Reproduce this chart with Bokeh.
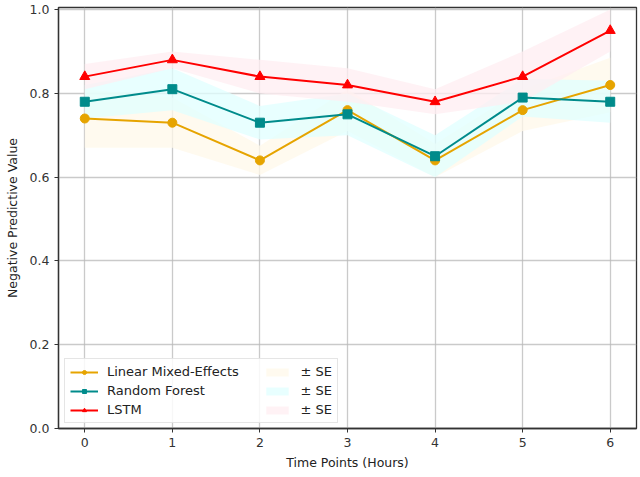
from bokeh.plotting import figure
from bokeh.models import Legend, LegendItem, FixedTicker, Range1d, CustomJSTickFormatter
from bokeh.embed import file_html
from bokeh.resources import INLINE

time_points = [0, 1, 2, 3, 4, 5, 6]
lme = [0.74, 0.73, 0.64, 0.76, 0.64, 0.76, 0.82]
rf = [0.78, 0.81, 0.73, 0.75, 0.65, 0.79, 0.78]
lstm = [0.84, 0.88, 0.84, 0.82, 0.78, 0.84, 0.95]
lme_se = [0.07, 0.06, 0.035, 0.05, 0.04, 0.05, 0.065]
rf_se = [0.04, 0.05, 0.04, 0.05, 0.05, 0.045, 0.05]
lstm_se = [0.03, 0.02, 0.04, 0.04, 0.03, 0.06, 0.05]
y_ticks = [0.0, 0.2, 0.4, 0.6, 0.8, 1.0]
series_names = ["Linear Mixed-Effects", "Random Forest", "LSTM"]

FONT = "DejaVu Sans"

p = figure(width=640, height=477, output_backend="svg", toolbar_location=None,
           x_range=Range1d(-0.3, 6.3), y_range=Range1d(0.0, 1.005),
           min_border_left=58, min_border_right=4, min_border_top=7, min_border_bottom=49)

p.outline_line_color = "#333333"
p.outline_line_width = 1.3
for ax in (p.xaxis[0], p.yaxis[0]):
    ax.axis_line_color = "#333333"
    ax.axis_line_width = 1.3
    ax.major_tick_line_color = "#333333"
    ax.major_tick_out = 4
    ax.major_tick_in = 0
    ax.minor_tick_line_color = None
    ax.major_label_text_font = FONT
    ax.major_label_text_font_size = "12.5px"
    ax.major_label_text_color = "#333333"
    ax.axis_label_text_font = FONT
    ax.axis_label_text_font_size = "12.5px"
    ax.axis_label_text_font_style = "normal"
    ax.axis_label_text_color = "#222222"

p.xaxis.ticker = FixedTicker(ticks=time_points)
p.yaxis.ticker = FixedTicker(ticks=y_ticks)
p.yaxis.formatter = CustomJSTickFormatter(code="return tick.toFixed(1);")
p.xaxis.axis_label = "Time Points (Hours)"
p.yaxis.axis_label = "Negative Predictive Value"
p.xaxis.axis_label_standoff = 5
p.yaxis.axis_label_standoff = 7

p.xgrid.grid_line_color = "#b8b8b8"
p.ygrid.grid_line_color = "#b8b8b8"
p.xgrid.grid_line_alpha = 0.75
p.ygrid.grid_line_alpha = 0.75
p.xgrid.grid_line_width = 1.3
p.ygrid.grid_line_width = 1.3

line_colors = ["#E6A400", "#008B8B", "#FF0000"]
band_colors = ["#FFF8EA", "#E0FFFF", "#FFEEF2"]
markers = ["circle", "square", "triangle"]
values = [lme, rf, lstm]
ses = [lme_se, rf_se, lstm_se]

bands = []
for v, se, bc in zip(values, ses, band_colors):
    lower = [a - b for a, b in zip(v, se)]
    upper = [a + b for a, b in zip(v, se)]
    r = p.varea(x=time_points, y1=lower, y2=upper, fill_color=bc, fill_alpha=0.75)
    bands.append(r)

line_items = []
for v, c, m, name in zip(values, line_colors, markers, series_names):
    l = p.line(time_points, v, line_color=c, line_width=2)
    s = p.scatter(time_points, v, marker=m, size=9 if m != "triangle" else 10,
                  fill_color=c, line_color=c)
    label = name + "     " if name == series_names[0] else name
    line_items.append(LegendItem(label=label, renderers=[l, s]))

se_items = [LegendItem(label="\u00b1 SE", renderers=[b]) for b in bands]

legend = Legend(items=line_items + se_items, nrows=3, location=(6, 5),
                label_text_font=FONT, label_text_font_size="13px",
                label_text_color="#222222",
                border_line_color="#cccccc", border_line_width=1,
                background_fill_alpha=0.85,
                glyph_width=28, glyph_height=10, label_height=15, spacing=4,
                padding=5, margin=0, label_standoff=9)
p.add_layout(legend, "center")

open("out.html", "w").write(file_html(p, INLINE))
